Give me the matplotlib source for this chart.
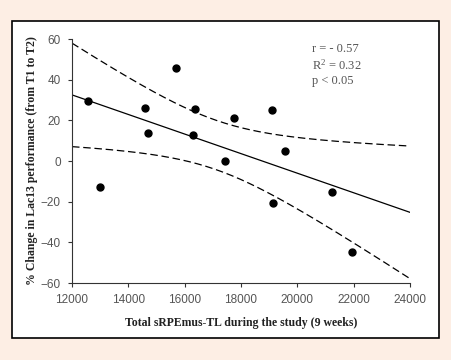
import numpy as np
import matplotlib
matplotlib.use("Agg")
import matplotlib.pyplot as plt

# data
load = [12580, 13010, 14600, 14700, 15710, 16370, 16310, 17440, 17750, 19100, 19120, 19550, 21220, 21930]
change = [29.3, -12.8, 26.2, 13.8, 45.9, 25.6, 13.0, 0.0, 21.0, 24.9, -20.5, 5.1, -15.1, -44.9]
xticks = [12000, 14000, 16000, 18000, 20000, 22000, 24000]
yticks = [-60, -40, -20, 0, 20, 40, 60]
stats_text = "r = - 0.57\n$\\mathregular{R^2}$ = 0.32\np < 0.05"

x = np.array(load, dtype=float)
y = np.array(change, dtype=float)
n = len(x)

# linear fit with 95% confidence band of the mean
slope, icpt = np.polyfit(x, y, 1)
resid = y - (slope * x + icpt)
s = np.sqrt(np.sum(resid ** 2) / (n - 2))
t = 2.179  # t(0.975, df=12)
xs = np.linspace(12000, 24000, 200)
fit = slope * xs + icpt
se = s * np.sqrt(1 / n + (xs - x.mean()) ** 2 / np.sum((x - x.mean()) ** 2))

fig = plt.figure(figsize=(4.51, 3.6), dpi=100)
fig.patch.set_facecolor("#fdeee4")

# white panel with black frame
panel = plt.Rectangle((12 / 451, 1 - 338 / 360), (439 - 12) / 451, (338 - 21) / 360,
                      transform=fig.transFigure, facecolor="white", edgecolor="black",
                      lw=1.2, zorder=-5)
fig.patches.append(panel)

ax = fig.add_axes([72 / 451, 1 - 283 / 360, (410 - 72) / 451, (283 - 39) / 360])
ax.set_facecolor("none")
ax.set_zorder(2)

ax.plot(xs, fit, color="black", lw=0.9)
ax.plot(xs, fit + t * se, color="black", lw=0.9, ls=(0, (6, 3)))
ax.plot(xs, fit - t * se, color="black", lw=0.9, ls=(0, (6, 3)))
ax.plot(x, y, "o", color="black", ms=5)

ax.set_xlim(12000, 24000)
ax.set_ylim(-60, 60)
ax.set_xticks(xticks)
ax.set_yticks(yticks)
for sp in ["top", "right"]:
    ax.spines[sp].set_visible(False)
for sp in ["left", "bottom"]:
    ax.spines[sp].set_color("#333333")
    ax.spines[sp].set_linewidth(0.8)
ax.tick_params(direction="out", length=3, width=0.8, color="#333333",
               labelsize=8.5, labelcolor="#555555", pad=5)
for lab in ax.get_xticklabels() + ax.get_yticklabels():
    lab.set_family("Liberation Sans")

ax.set_xlabel("Total sRPEmus-TL during the study (9 weeks)", family="Liberation Serif",
              fontweight="bold", fontsize=8.5, color="#222222", labelpad=8)
ax.set_ylabel("% Change in Lac13 performance (from T1 to T2)", family="Liberation Serif",
              fontweight="bold", fontsize=8.5, color="#222222", labelpad=2)

ax.text(0.71, 0.985, stats_text, transform=ax.transAxes, va="top", ha="left",
        family="Liberation Serif", fontsize=9, color="#555555", linespacing=1.3)

fig.savefig("out.png", dpi=100, facecolor=fig.get_facecolor())
